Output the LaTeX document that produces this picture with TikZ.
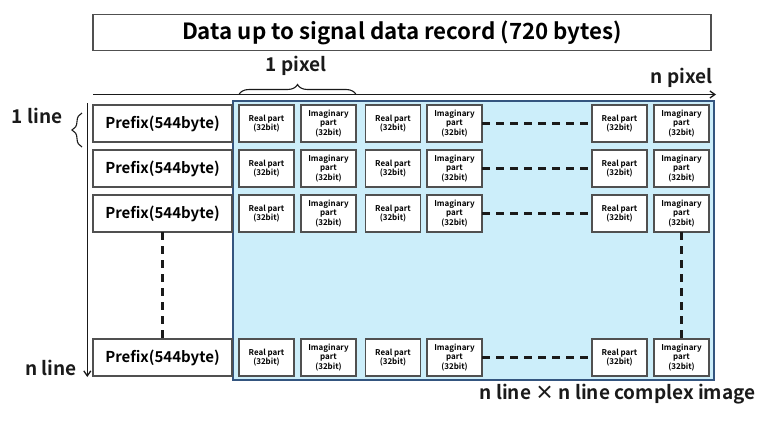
\documentclass[tikz,border=0pt]{standalone}
\usepackage{fontspec}
\setmainfont{Noto Sans CJK JP}[BoldFont={Noto Sans CJK JP Bold}]
\usetikzlibrary{arrows.meta, positioning, decorations.pathreplacing, calc}
\definecolor{cink}{HTML}{1A1A1A}
\definecolor{cedge}{HTML}{505050}
\definecolor{cpane}{HTML}{CCEEFA}
\definecolor{cframe}{HTML}{34557F}
\tikzset{
  every picture/.style={font=\bfseries, line width=1.2pt},
  box/.style={draw=cedge, fill=white, align=center, inner sep=0pt, outer sep=0pt, minimum width=#1, minimum height=37pt},
  box/.default=55pt,
  cellbox/.style={box, font=\bfseries\fontsize{8}{9.2}\selectfont},
  prefixbox/.style={box=139pt, font=\bfseries\fontsize{15}{18}\selectfont},
  arrow/.style={-{Straight Barb[length=5pt, width=7pt]}, draw=cink, line width=1.3pt},
  gapline/.style={draw=cink, dash pattern=on 8pt off 6pt, line width=2.4pt},
  bracemark/.style={decorate, decoration={brace, amplitude=10pt}, draw=cink, line width=1.1pt},
  tagtext/.style={font=\bfseries\fontsize{19}{22}\selectfont, text=cink, inner sep=0pt},
}

\begin{document}
\begin{tikzpicture}[x=1pt, y=-1pt]
  \useasboundingbox (0,0) rectangle (768,423);
  % title
  \node[draw=cedge, minimum width=618pt, minimum height=36pt, inner sep=0pt, font=\bfseries\fontsize{22.3}{26}\selectfont] (title) at (402,32.5) {Data up to signal data record (720 bytes)};
  % axes
  \coordinate (xa) at (93,94.5);
  \coordinate (xb) at (716,94.5);
  \draw[arrow] (xa) -- (xb);
  \coordinate (ya) at (87.3,103);
  \coordinate (yb) at (87.3,377);
  \draw[arrow] (ya) -- (yb);
  \node[tagtext, anchor=east] (npix) at (713,78) {n pixel};
  \node[tagtext] (onepix) at (296,66) {1 pixel};
  \node[tagtext] (oneline) at (37,116) {1 line};
  \node[tagtext] (nline) at (51,368) {n line};
  % complex image area
  \node[draw=cframe, fill=cpane, line width=1.3pt, minimum width=481pt, minimum height=279pt, inner sep=0pt] (pane) at (473.5,240.5) {};
  \node[tagtext, anchor=north east] (cap) at (756,383) {n line × n line complex image};
  % rows
  \foreach \y [count=\r] in {123.5, 168.5, 213.5, 357.5} {
    \node[prefixbox] (p\r) at (162.5,\y) {Prefix(544byte)};
    \foreach \x/\t [count=\c] in {266.5/Real part\\(32bit), 328.5/Imaginary\\part\\(32bit), 393/Real part\\(32bit), 454.5/Imaginary\\part\\(32bit), 619.5/Real part\\(32bit), 681.5/Imaginary\\part\\(32bit)}
      \node[cellbox] (c\r-\c) at (\x,\y) {\t};
    \draw[gapline] (c\r-4.east) -- (c\r-5.west);
  }
  \draw[gapline] (p3.south) -- (p4.north);
  \draw[gapline] (c3-6.south) -- (c4-6.north);
  % braces
  \draw[bracemark] (c1-1.west |- xa) -- (c1-2.east |- xa);
  \draw[bracemark] (82,147) -- (82,113);
\end{tikzpicture}
\end{document}
